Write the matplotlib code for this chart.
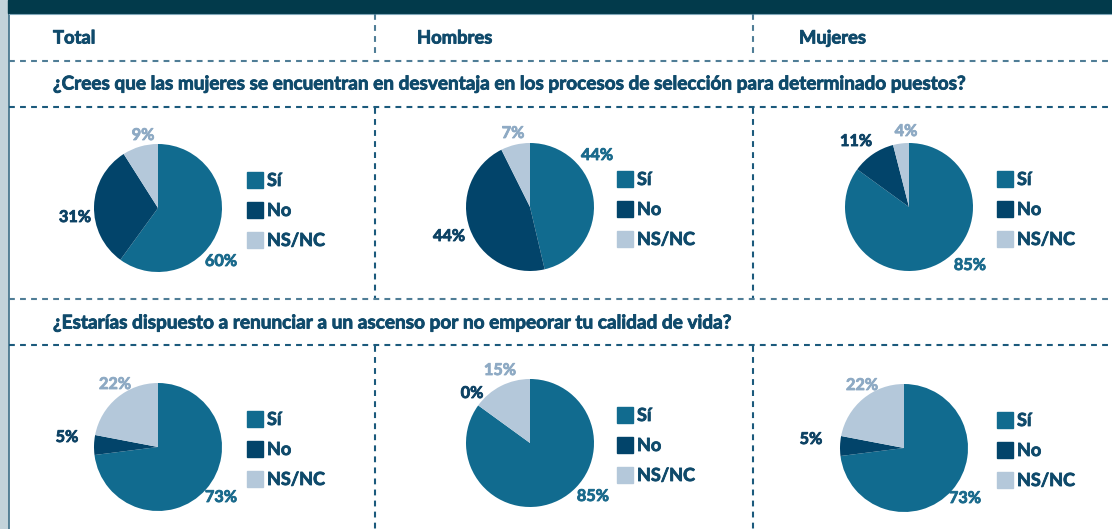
import matplotlib
matplotlib.use("Agg")
import matplotlib.pyplot as plt
from matplotlib.patches import Rectangle
import matplotlib.patheffects as pe

# ---------------- data ----------------
groups = ["Total", "Hombres", "Mujeres"]
categories = ["Sí", "No", "NS/NC"]
questions = [
    "¿Crees que las mujeres se encuentran en desventaja en los procesos de selección para determinado puestos?",
    "¿Estarías dispuesto a renunciar a un ascenso por no empeorar tu calidad de vida?",
]
q1_total = [60, 31, 9]
q1_hombres = [44, 44, 7]
q1_mujeres = [85, 11, 4]
q2_total = [73, 5, 22]
q2_hombres = [85, 0, 15]
q2_mujeres = [73, 5, 22]
values = [[q1_total, q1_hombres, q1_mujeres], [q2_total, q2_hombres, q2_mujeres]]

# ---------------- style ----------------
W, H = 1112, 529
DPI = 100
C_SI, C_NO, C_NS = "#116b8f", "#02446a", "#b4c8da"
wedge_colors = [C_SI, C_NO, C_NS]
label_colors = ["#1a6a8c", "#0d4264", "#8eaac4"]
TXT = "#0f4a6b"
FONT = "Lato"
WEIGHT = "bold"

def thick(color):
    return [pe.withStroke(linewidth=0.6, foreground=color)]

fig = plt.figure(figsize=(W / DPI, H / DPI), dpi=DPI)
bg = fig.add_axes([0, 0, 1, 1])
bg.set_xlim(0, W)
bg.set_ylim(H, 0)
bg.axis("off")

# left strip and frame line
bg.add_patch(Rectangle((0, 0), 8, H, color="#c3d3da", zorder=1))
bg.plot([8.5, 8.5], [0, H], color="#3f7088", lw=1.2, zorder=2)
# top dark band
bg.add_patch(Rectangle((8, 0), W - 8, 13, color="#023a4b", zorder=2))
bg.plot([9, W], [13.5, 13.5], color="#7fa6b8", lw=0.8, zorder=2)

def dashed(x0, y0, x1, y1, color):
    ln, = bg.plot([x0, x1], [y0, y1], color=color, lw=1.5, zorder=2)
    ln.set_dashes([2.8, 2.5])

# horizontal dashed lines
dashed(9, 61, W, 61, "#4f7d96")
dashed(9, 107, W, 107, "#1b5a7c")
dashed(9, 299, W, 299, "#4f7d96")
dashed(9, 345, W, 345, "#1b5a7c")
# vertical separators
for x in (375, 753):
    dashed(x, 14, x, 53, "#4f7d96")
    dashed(x, 108, x, 298, "#1b5a7c")
    dashed(x, 346, x, H, "#1b5a7c")

fig.canvas.draw()
rend = fig.canvas.get_renderer()

def fit_size(s, target_w):
    t = bg.text(0, 0, s, fontsize=12, fontweight=WEIGHT, family=FONT)
    w = t.get_window_extent(renderer=rend).width
    t.remove()
    return 12 * target_w / w

# headers
header_size = fit_size("Hombres", 75)
for x, g in zip((53, 417, 799), groups):
    bg.text(x, 38, g, color=TXT, fontsize=header_size, fontweight=WEIGHT,
            family=FONT, va="center", ha="left", zorder=3, path_effects=thick(TXT))

# questions (fit to reference widths)
q_targets = [(84, 908), (323, 675)]
for (y, tw), q in zip(q_targets, questions):
    bg.text(53, y, q, color=TXT, fontsize=fit_size(q, tw), fontweight=WEIGHT,
            family=FONT, va="center", ha="left", zorder=3, path_effects=thick(TXT))

label_size = fit_size("60%", 32)
legend_size = fit_size("NS/NC", 58)

# pies
R = 64
centers = [[(158, 208), (530, 207), (909, 207)],
           [(158, 447), (530, 443), (904, 448)]]
# label offsets (in pixels from centre) for Sí, No, NS/NC
label_offsets = [
    [[(63, 54), (-83, 10), (-15, -72)],
     [(67, -51), (-81, 30), (-17, -73)],
     [(61, 59), (-53, -65), (-3, -75)]],
    [[(63, 51), (-91, -9), (-43, -62)],
     [(63, 54), (-58, -49), (-30, -72)],
     [(61, 51), (-93, -8), (-42, -62)]],
]
legend_x = [247, 617, 997]

for i in range(2):
    for j in range(3):
        cx, cy = centers[i][j]
        ax = fig.add_axes([(cx - R) / W, 1 - (cy + R) / H, 2 * R / W, 2 * R / H])
        vals = values[i][j]
        ax.pie(vals, colors=wedge_colors, startangle=90, counterclock=False,
               radius=1.0, wedgeprops=dict(linewidth=0))
        ax.set_xlim(-1, 1)
        ax.set_ylim(-1, 1)
        ax.axis("off")
        for k, v in enumerate(vals):
            dx, dy = label_offsets[i][j][k]
            ax.text(dx / R, -dy / R, f"{v}%", color=label_colors[k], fontsize=label_size,
                    fontweight=WEIGHT, family=FONT, ha="center", va="center",
                    clip_on=False, path_effects=thick(label_colors[k]))
        # legend
        lx = legend_x[j]
        ly0 = cy - 28
        for k, cat in enumerate(categories):
            yy = ly0 + 30 * k
            bg.add_patch(Rectangle((lx, yy - 8), 16, 16, color=wedge_colors[k], zorder=3))
            bg.text(lx + 20, yy + 0.5, cat, color=TXT, fontsize=legend_size,
                    fontweight=WEIGHT, family=FONT, va="center", ha="left", zorder=3,
                    path_effects=thick(TXT))

fig.savefig("out.png", dpi=DPI)
